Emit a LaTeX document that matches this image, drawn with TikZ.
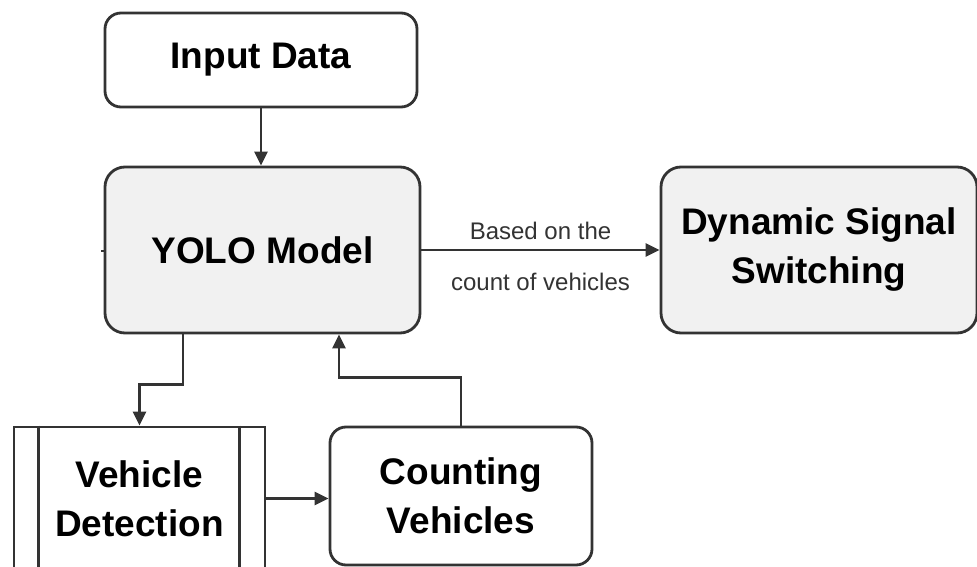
\documentclass[tikz,border=0pt]{standalone}
\usepackage{fontspec}
\setmainfont{Liberation Sans}
\usetikzlibrary{arrows.meta,calc}
\definecolor{boxgray}{HTML}{F1F1F1}
\definecolor{linegray}{HTML}{333333}
\tikzset{
  every picture/.style={x=1pt,y=-1pt},
  base/.style={draw=linegray,line width=2.8pt,align=center,inner sep=0pt,
    font=\bfseries\fontsize{37}{49}\selectfont},
  roundbox/.style={base,rounded corners=16pt,fill=white},
  graybox/.style={base,rounded corners=20pt,fill=boxgray},
  procbox/.style={base,fill=white},
  conn/.style={draw=linegray,line width=2.8pt},
  arr/.style={conn,-{Triangle[length=14pt,width=13pt]}},
  lbl/.style={font=\fontsize{24}{28}\selectfont,inner sep=0pt,text=linegray}
}
\begin{document}
\begin{tikzpicture}
\useasboundingbox (0,0) rectangle (977,567);
\clip (0,0) rectangle (977,567);
\fill[white] (0,0) rectangle (977,567);

\node[roundbox,minimum width=312pt,minimum height=94pt] (in) at (261,60) {Input Data};
\node[graybox,minimum width=315pt,minimum height=166pt] (yolo) at (262.5,250) {YOLO Model};
\node[graybox,minimum width=316pt,minimum height=166pt] (dyn) at (819,250) {Dynamic Signal\\Switching};
\node[procbox,minimum width=251pt,minimum height=143pt] (vd) at (139.5,498.5) {Vehicle\\Detection};
\node[roundbox,minimum width=262pt,minimum height=138pt] (cv) at (461,496) {Counting\\Vehicles};

% inner vertical lines of the process box
\draw[conn] ($(vd.north west)+(26,0)$) -- ($(vd.south west)+(26,0)$);
\draw[conn] ($(vd.north east)+(-27,0)$) -- ($(vd.south east)+(-27,0)$);

% small stub at left of YOLO box
\coordinate (stub) at (101,251);
\draw[conn] (stub) -- (stub -| yolo.west);

% connectors
\draw[arr] (in.south) -- (in.south |- yolo.north);
\draw[arr] (yolo.east) -- (dyn.west)
  node[lbl,midway,above=9pt] {Based on the}
  node[lbl,midway,below=22pt] {count of vehicles};
\draw[arr] ($(yolo.south)+(-79.5,0)$) -- ++(0,50) -| (vd.north);
\draw[arr] (vd.east) -- (vd.east -| cv.west);
\draw[arr] (cv.north) -- ++(0,-48) -| ($(yolo.south)+(76.5,0)$);
\end{tikzpicture}
\end{document}
